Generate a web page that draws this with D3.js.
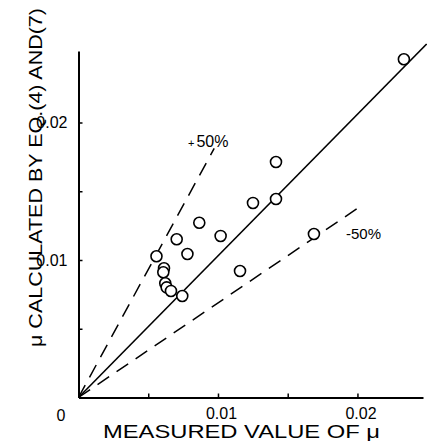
<!DOCTYPE html>
<html>
<head>
<meta charset="utf-8">
<script src="https://cdn.jsdelivr.net/npm/d3@7"></script>
<style>
  html, body { margin: 0; padding: 0; background: #fff; }
  svg { display: block; }
  text { font-family: "Liberation Sans Narrow", "Liberation Sans", Arial, sans-serif; fill: #000; }
</style>
</head>
<body>
<svg id="chart" width="427" height="441"></svg>
<script>
// Measured vs calculated friction factor μ
const measured   = [0.02333, 0.01416, 0.01416, 0.01251, 0.01688, 0.00866, 0.01019, 0.00704, 0.00559,
                    0.00781, 0.01158, 0.00613, 0.00608, 0.00622, 0.00632, 0.00663, 0.00744];
const calculated = [0.02460, 0.01713, 0.01444, 0.01415, 0.01189, 0.01271, 0.01175, 0.01151, 0.01027,
                    0.01044, 0.00920, 0.00940, 0.00911, 0.00831, 0.00801, 0.00775, 0.00738];

// Reference lines: agreement line and the ±50 % bounds (start/end values)
const agreeLine = [[0, 0], [0.02496, 0.02571]];
const plusLine  = [[0, 0], [0.00973, 0.01812]];
const minusLine = [[0, 0], [0.02011, 0.01383]];

const xTicks = [0.005, 0.01, 0.015, 0.02];
const yTicks = [0.005, 0.01, 0.015, 0.02];
const labelledTicks = [0.01, 0.02];

const svg = d3.select("#chart");

const x = d3.scaleLinear().domain([0, 0.0247]).range([78.5, 423]);
const y = d3.scaleLinear().domain([0, 0.0252]).range([397.5, 51]);

const fmt = d => labelledTicks.includes(d) ? d3.format(".2f")(d) : "";
const fontStack = "'Liberation Sans Narrow', 'Liberation Sans', Arial, sans-serif";

// Axes with inward ticks
const gx = svg.append("g")
  .attr("transform", `translate(0,${y(0)})`)
  .call(d3.axisBottom(x).tickValues(xTicks).tickSizeInner(-4).tickSizeOuter(0).tickPadding(10).tickFormat(fmt));
const gy = svg.append("g")
  .attr("transform", `translate(${x(0)},0)`)
  .call(d3.axisLeft(y).tickValues(yTicks).tickSizeInner(-4).tickSizeOuter(0).tickPadding(11).tickFormat(fmt));

[gx, gy].forEach(g => {
  g.attr("font-size", 16).attr("font-family", fontStack);
  g.select(".domain").attr("stroke", "#000").attr("stroke-width", 2);
  g.selectAll(".tick line").attr("stroke", "#000").attr("stroke-width", 1.5);
  g.selectAll(".tick text").attr("fill", "#000");
});
gx.selectAll(".tick text").attr("dx", 3);

svg.append("text").attr("x", 61).attr("y", 421).attr("text-anchor", "middle")
  .attr("font-size", 16).text("0");

// Reference lines
const line = d3.line().x(d => x(d[0])).y(d => y(d[1]));
svg.append("path").datum(agreeLine).attr("d", line)
  .attr("fill", "none").attr("stroke", "#000").attr("stroke-width", 1.6);
[plusLine, minusLine].forEach(l => {
  svg.append("path").datum(l).attr("d", line)
    .attr("fill", "none").attr("stroke", "#000").attr("stroke-width", 1.5)
    .attr("stroke-dasharray", "14,9");
});

// Data points
svg.append("g").selectAll("circle")
  .data(measured.map((m, i) => [m, calculated[i]]))
  .join("circle")
  .attr("cx", d => x(d[0])).attr("cy", d => y(d[1])).attr("r", 5.5)
  .attr("fill", "#fff").attr("stroke", "#000").attr("stroke-width", 1.6);

// Line labels
const plusLbl = svg.append("text").attr("x", 188).attr("y", 147).attr("font-size", 16);
plusLbl.append("tspan").attr("font-size", 11).text("+");
plusLbl.append("tspan").attr("dx", 2).text("50%");
svg.append("text").attr("x", 346).attr("y", 239).attr("font-size", 15).text("-50%");

// Axis titles
svg.append("text").attr("x", 103).attr("y", 438).attr("font-size", 18)
  .attr("textLength", 277).attr("lengthAdjust", "spacingAndGlyphs")
  .text("MEASURED  VALUE  OF  μ");
svg.append("text").attr("transform", "translate(42,347) rotate(-90)").attr("font-size", 18)
  .attr("textLength", 339).attr("lengthAdjust", "spacingAndGlyphs")
  .text("μ  CALCULATED  BY  EQ.(4) AND(7)");
</script>
</body>
</html>
